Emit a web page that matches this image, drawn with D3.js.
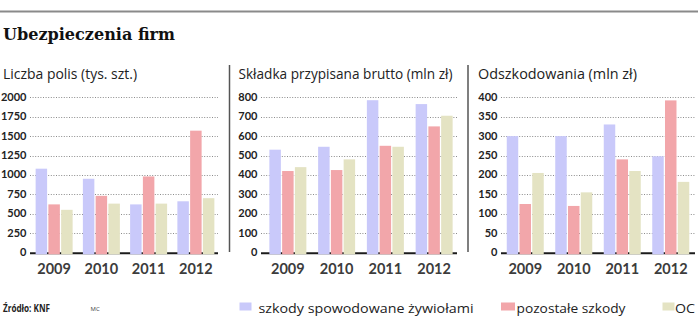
<!DOCTYPE html>
<html>
<head>
<meta charset="utf-8">
<script src="https://cdn.jsdelivr.net/npm/d3@7"></script>
<style>
  html, body { margin: 0; padding: 0; background: #fff; }
  svg { display: block; }
  .tick-label { font-family: Lato, "Open Sans", sans-serif; font-weight: 700; font-size: 11px; fill: #222; }
  .year-label { font-family: Lato, "Open Sans", sans-serif; font-weight: 700; font-size: 14.5px; fill: #3c3c3c; }
  .panel-title { font-family: "Open Sans", sans-serif; font-size: 14.5px; fill: #222; }
  .legend-text { font-family: "Open Sans", sans-serif; font-size: 13.5px; fill: #222; }
</style>
</head>
<body>
<svg id="chart" width="698" height="322"></svg>
<script>
// Years shown on every panel
const years = ["2009", "2010", "2011", "2012"];
const seriesNames = ["szkody spowodowane żywiołami", "pozostałe szkody", "OC"];
const seriesColors = ["#c9c9fa", "#f2a6aa", "#e4e3c3"];

// Liczba polis (tys. szt.)
const polisZywioly   = [1080, 950, 620, 660];
const polisPozostale = [620, 730, 980, 1570];
const polisOC        = [550, 630, 630, 700];
const polisTicks     = [0, 250, 500, 750, 1000, 1250, 1500, 1750, 2000];

// Składka przypisana brutto (mln zł)
const skladkaZywioly   = [530, 545, 785, 765];
const skladkaPozostale = [420, 425, 550, 650];
const skladkaOC        = [440, 480, 545, 705];
const skladkaTicks     = [0, 100, 200, 300, 400, 500, 600, 700, 800];

// Odszkodowania (mln zł)
const odszkZywioly   = [300, 300, 330, 248];
const odszkPozostale = [125, 120, 240, 392];
const odszkOC        = [205, 155, 210, 182];
const odszkTicks     = [0, 50, 100, 150, 200, 250, 300, 350, 400];

const svg = d3.select("#chart");

// Top rule and headline
svg.append("line")
  .attr("x1", 0).attr("x2", 698).attr("y1", 11.5).attr("y2", 11.5)
  .attr("stroke", "#8a8a8a").attr("stroke-width", 2);

svg.append("text")
  .attr("x", 3).attr("y", 40)
  .attr("font-family", "'DejaVu Serif', serif")
  .attr("font-weight", 700)
  .attr("font-size", 16)
  .attr("fill", "#111")
  .attr("textLength", 172)
  .attr("lengthAdjust", "spacingAndGlyphs")
  .text("Ubezpieczenia firm");

const yTop = 97.3, yZero = 252.5, baseY = 253.3;

const panels = [
  { title: "Liczba polis (tys. szt.)", titleX: 3, titleW: 134,
    series: [polisZywioly, polisPozostale, polisOC], ticks: polisTicks,
    grid: [30, 218], band: [30.5, 219.5], sep: null },
  { title: "Składka przypisana brutto (mln zł)", titleX: 238.5, titleW: 214,
    series: [skladkaZywioly, skladkaPozostale, skladkaOC], ticks: skladkaTicks,
    grid: [261, 457], band: [263.5, 458.5], sep: 229.5 },
  { title: "Odszkodowania (mln zł)", titleX: 478, titleW: 159,
    series: [odszkZywioly, odszkPozostale, odszkOC], ticks: odszkTicks,
    grid: [501, 695], band: [501, 695], sep: 468 }
];

panels.forEach(p => {
  const g = svg.append("g");

  if (p.sep !== null) {
    g.append("line")
      .attr("x1", p.sep).attr("x2", p.sep).attr("y1", 65).attr("y2", 252)
      .attr("stroke", "#555").attr("stroke-width", 1.5);
  }

  g.append("text").attr("class", "panel-title")
    .attr("x", p.titleX).attr("y", 79)
    .attr("textLength", p.titleW).attr("lengthAdjust", "spacingAndGlyphs")
    .text(p.title);

  const y = d3.scaleLinear()
    .domain([0, p.ticks[p.ticks.length - 1]])
    .range([yZero, yTop]);

  const x0 = d3.scaleBand().domain(years).range(p.band).paddingInner(0).paddingOuter(0);
  const groupW = 37;
  const x1 = d3.scaleBand().domain(d3.range(3)).range([0, groupW]).paddingInner(0.1);

  // dotted grid lines
  g.append("g").selectAll("line")
    .data(p.ticks.filter(t => t > 0))
    .join("line")
    .attr("x1", p.grid[0]).attr("x2", p.grid[1])
    .attr("y1", d => Math.round(y(d)) + 0.5).attr("y2", d => Math.round(y(d)) + 0.5)
    .attr("stroke", "#8c8c8c").attr("stroke-width", 1)
    .attr("stroke-dasharray", "1,1.6");

  // tick labels
  g.append("g").selectAll("text")
    .data(p.ticks)
    .join("text").attr("class", "tick-label")
    .attr("x", p.grid[0] - 3.5)
    .attr("y", d => y(d))
    .attr("dy", "0.32em")
    .attr("text-anchor", "end")
    .text(d => d);

  // baseline
  g.append("line")
    .attr("x1", p.grid[0]).attr("x2", p.grid[1])
    .attr("y1", baseY).attr("y2", baseY)
    .attr("stroke", "#1b1b1b").attr("stroke-width", 2);

  // bars
  const groups = g.append("g").selectAll("g")
    .data(years.map((yr, i) => ({ yr, vals: p.series.map(s => s[i]) })))
    .join("g")
    .attr("transform", d => `translate(${x0(d.yr) + (x0.bandwidth() - groupW) / 2},0)`);

  groups.selectAll("rect")
    .data(d => d.vals.map((v, k) => ({ v, k })))
    .join("rect")
    .attr("x", d => x1(d.k))
    .attr("width", x1.bandwidth())
    .attr("y", d => y(d.v))
    .attr("height", d => baseY + 1 - y(d.v))
    .attr("fill", d => seriesColors[d.k]);

  // year labels
  g.append("g").selectAll("text")
    .data(years)
    .join("text").attr("class", "year-label")
    .attr("x", d => x0(d) + x0.bandwidth() / 2)
    .attr("y", 274)
    .attr("text-anchor", "middle")
    .text(d => d);
});

// Footer: source and legend
svg.append("text")
  .attr("x", 3).attr("y", 312)
  .attr("font-family", "'Open Sans', sans-serif").attr("font-weight", 700)
  .attr("font-size", 10).attr("fill", "#222")
  .attr("textLength", 47).attr("lengthAdjust", "spacingAndGlyphs")
  .text("Źródło: KNF");

svg.append("text")
  .attr("x", 90.5).attr("y", 311)
  .attr("font-family", "'Open Sans', sans-serif")
  .attr("font-size", 6).attr("fill", "#444")
  .text("MC");

const legendItems = [
  { x: 239.5, textW: 215 },
  { x: 501, textW: 109 },
  { x: 662.5, textW: 20 }
];

const legend = svg.append("g").selectAll("g")
  .data(seriesNames.map((name, i) => ({ name, color: seriesColors[i], ...legendItems[i] })))
  .join("g");

legend.append("rect")
  .attr("x", d => d.x).attr("y", 302.5)
  .attr("width", d => d.name === "pozostałe szkody" ? 14 : 12).attr("height", 8)
  .attr("fill", d => d.color);

legend.append("text").attr("class", "legend-text")
  .attr("x", d => d.x + (d.name === "pozostałe szkody" ? 15.5 : d.name === "OC" ? 12.5 : 19))
  .attr("y", 312.5)
  .attr("textLength", d => d.textW)
  .attr("lengthAdjust", "spacingAndGlyphs")
  .text(d => d.name);
</script>
</body>
</html>
